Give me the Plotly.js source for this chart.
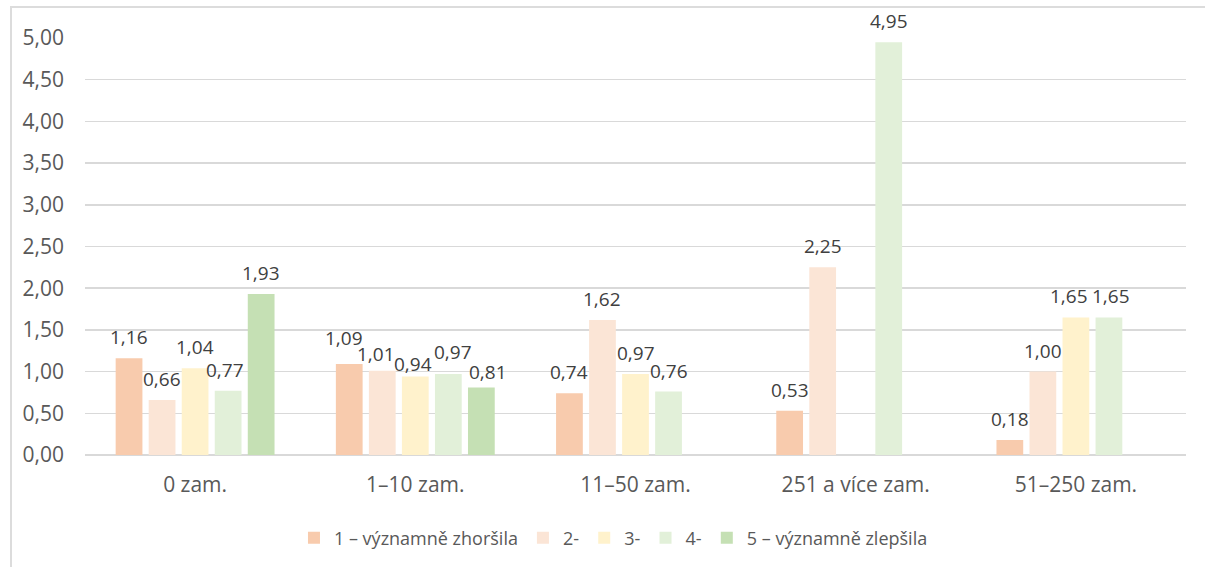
<!DOCTYPE html>
<html>
<head>
<meta charset="utf-8">
<script src="https://cdn.plot.ly/plotly-3.0.1.min.js"></script>
<style>
  html, body { margin: 0; padding: 0; background: #fff; overflow: hidden; }
  #chart { width: 1205px; height: 567px; }
  #frame { position: absolute; left: 10px; top: 6px; width: 1300px; height: 700px;
           border: 2px solid #dcdcdc; pointer-events: none; }
</style>
</head>
<body>
<div id="chart"></div>
<div id="frame"></div>
<script>
// ---- data ----
const categories = ["0 zam.", "1–10 zam.", "11–50 zam.", "251 a více zam.", "51–250 zam."];
const seriesNames = ["1 – významně zhoršila", "2-", "3-", "4-", "5 – významně zlepšila"];
const s1 = [1.16, 1.09, 0.74, 0.53, 0.18];
const s2 = [0.66, 1.01, 1.62, 2.25, 1.00];
const s3 = [1.04, 0.94, 0.97, null, 1.65];
const s4 = [0.77, 0.97, 0.76, 4.95, 1.65];
const s5 = [1.93, 0.81, null, null, null];
const seriesValues = [s1, s2, s3, s4, s5];
const yTickVals = [0, 0.5, 1, 1.5, 2, 2.5, 3, 3.5, 4, 4.5, 5];

// ---- styles ----
const colors = ["#F8CBAD", "#FBE5D6", "#FFF2CC", "#E2F0D9", "#C5E0B4"];
const W = 1205, H = 567;
const margin = { l: 85, r: 19, t: 38, b: 111 };
const bargap = 0.25, bargroupgap = 0.19;
const fontFam = "'Open Sans', 'Noto Sans', sans-serif";
const labelLift = 21;
// label nudges (pixels) to avoid overlapping labels, keyed "series,category"
const labelNudge = {
  "0,1": [-5, 5], "1,1": [-6, -4], "2,1": [-2, -8], "3,1": [5, 1], "4,1": [7, -6],
  "3,0": [-3, 0], "2,4": [-7, 0], "3,4": [2, 0]
};

const traces = seriesValues.map((vals, i) => ({
  type: "bar",
  name: seriesNames[i],
  x: categories,
  y: vals,
  marker: { color: colors[i] },
  hoverinfo: "skip"
}));

// data labels as annotations, centred above each bar
const catWidthPx = (W - margin.l - margin.r) / categories.length;
const pitch = catWidthPx * (1 - bargap) / seriesValues.length;
const annotations = [];
seriesValues.forEach((vals, s) => {
  vals.forEach((v, c) => {
    if (v === null) return;
    const n = labelNudge[s + "," + c] || [0, 0];
    annotations.push({
      x: categories[c], y: v, xref: "x", yref: "y",
      text: v.toFixed(2).replace(".", ","),
      showarrow: false, yanchor: "middle", xanchor: "center",
      xshift: (s - (seriesValues.length - 1) / 2) * pitch + n[0],
      yshift: labelLift + n[1],
      font: { family: fontFam, size: 19, color: "#404040" }
    });
  });
});

const layout = {
  width: W, height: H,
  margin: margin,
  paper_bgcolor: "#ffffff", plot_bgcolor: "#ffffff",
  barmode: "group", bargap: bargap, bargroupgap: bargroupgap,
  separators: ", ",
  showlegend: true,
  legend: {
    orientation: "h", x: 0.48, xanchor: "center", y: -0.196, yanchor: "middle",
    font: { family: fontFam, size: 18, color: "#595959" },
    traceorder: "normal"
  },
  xaxis: {
    type: "category", categoryorder: "array", categoryarray: categories,
    showgrid: false, showline: false, ticks: "", zeroline: false,
    tickfont: { family: fontFam, size: 21, color: "#595959" },
    ticklabelstandoff: 15, fixedrange: true
  },
  yaxis: {
    range: [0, 5], tickvals: yTickVals, tickformat: ".2f",
    showgrid: true, gridcolor: "#d9d9d9", gridwidth: 1.5,
    zeroline: true, zerolinecolor: "#d9d9d9", zerolinewidth: 1.5,
    showline: false, ticks: "",
    tickfont: { family: fontFam, size: 21, color: "#595959" },
    ticklabelstandoff: 20, fixedrange: true
  },
  annotations: annotations
};

Plotly.newPlot("chart", traces, layout, { staticPlot: true, displayModeBar: false });
</script>
</body>
</html>
